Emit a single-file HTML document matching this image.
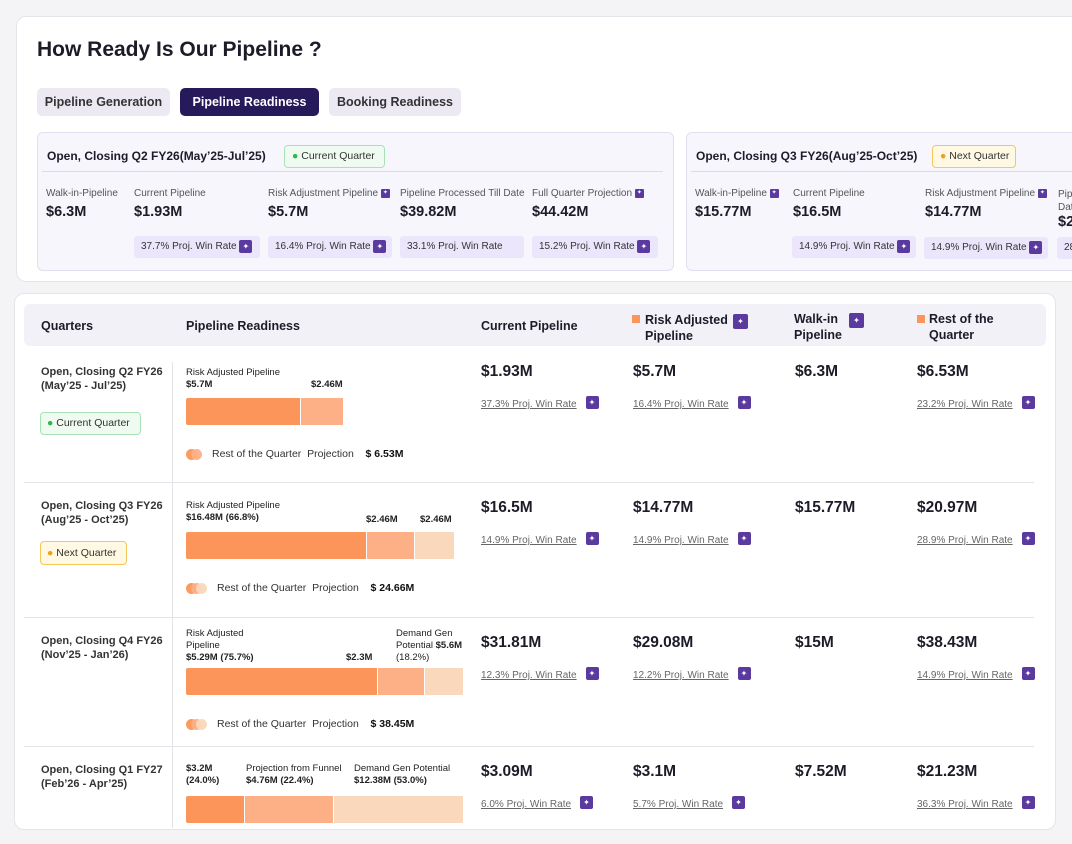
<!DOCTYPE html>
<html><head><meta charset="utf-8"><style>
*{box-sizing:border-box;margin:0;padding:0}
body{width:1072px;height:844px;background:#f4f4f6;font-family:"Liberation Sans",sans-serif;color:#1c1c28;position:relative;overflow:hidden}
.a{position:absolute;white-space:nowrap}
.card{position:absolute;background:#fff;border:1px solid #e4e4ea;border-radius:10px}
.tab{position:absolute;top:88px;height:28px;border-radius:5px;background:#ece9f3;font-size:12.5px;line-height:28px;text-align:center;color:#333;font-weight:bold}
.sum{position:absolute;top:132px;height:139px;background:#f7f6fd;border:1px solid #e2dff0;border-radius:6px}
.lbl{font-size:10px;color:#555}
.val{font-size:14.5px;font-weight:bold}
.pill{position:absolute;height:22px;background:#ebe6fb;border-radius:3px;font-size:10px;line-height:22px;padding-left:7px;color:#333}
.ic{display:inline-block;width:13px;height:13px;background:#5a3a9e;border-radius:2px;color:#fff;font-size:8px;line-height:13px;text-align:center;vertical-align:middle}
.ics{display:inline-block;width:9px;height:9px;background:#5a3a9e;border-radius:1px;color:#fff;font-size:6px;line-height:9px;text-align:center;vertical-align:middle}
.th{font-size:12.5px;font-weight:bold;color:#1c1c28;line-height:16px}
.q{font-size:11px;color:#333;font-weight:bold;line-height:14px}
.big{font-size:15.5px;font-weight:bold}
.wr{font-size:10px;color:#666;text-decoration:underline}
.sm{font-size:9.5px;color:#222;line-height:12px}
.sm b{font-weight:bold}
.hline{position:absolute;height:1px;background:#e3e3e8}
</style></head><body>
<div class="card" style="left:16px;top:16px;width:1070px;height:266px"></div>
<div class="a" style="left:37px;top:38px;font-size:21px;font-weight:bold">How Ready Is Our Pipeline ?</div>
<div class="tab" style="left:37px;width:133px">Pipeline Generation</div>
<div class="tab" style="left:180px;width:139px;background:#271a5a;color:#fff">Pipeline Readiness</div>
<div class="tab" style="left:329px;width:132px">Booking Readiness</div>

<div class="sum" style="left:37px;width:637px"></div>
<div class="a" style="left:47px;top:149px;font-size:12px;font-weight:bold">Open, Closing Q2 FY26(May’25-Jul’25)</div>
<div class="a" style="left:284px;top:145px;width:101px;height:23px;background:#effbf1;border:1px solid #a8e2b4;border-radius:4px;font-size:10.5px;line-height:21px;padding-left:7px;color:#333"><span style="color:#2eb84f">●</span> Current Quarter</div>
<div class="hline" style="left:42px;top:171px;width:621px;background:#dcdae6"></div>
<div class="a lbl" style="left:46px;top:188px">Walk-in-Pipeline</div>
<div class="a val" style="left:46px;top:204px">$6.3M</div>
<div class="a lbl" style="left:134px;top:188px">Current Pipeline</div>
<div class="a val" style="left:134px;top:204px">$1.93M</div>
<div class="a lbl" style="left:268px;top:188px">Risk Adjustment Pipeline <span class="ics">✦</span></div>
<div class="a val" style="left:268px;top:204px">$5.7M</div>
<div class="a lbl" style="left:400px;top:188px">Pipeline Processed Till Date</div>
<div class="a val" style="left:400px;top:204px">$39.82M</div>
<div class="a lbl" style="left:532px;top:188px">Full Quarter Projection <span class="ics">✦</span></div>
<div class="a val" style="left:532px;top:204px">$44.42M</div>
<div class="pill" style="left:134px;top:236px;width:126px">37.7% Proj. Win Rate <span class="ic">✦</span></div>
<div class="pill" style="left:268px;top:236px;width:124px">16.4% Proj. Win Rate <span class="ic">✦</span></div>
<div class="pill" style="left:400px;top:236px;width:124px">33.1% Proj. Win Rate</div>
<div class="pill" style="left:532px;top:236px;width:126px">15.2% Proj. Win Rate <span class="ic">✦</span></div>

<div class="sum" style="left:686px;width:420px"></div>
<div class="a" style="left:696px;top:149px;font-size:12px;font-weight:bold">Open, Closing Q3 FY26(Aug’25-Oct’25)</div>
<div class="a" style="left:932px;top:145px;width:84px;height:23px;background:#fff8e3;border:1px solid #f5c65a;border-radius:4px;font-size:10.5px;line-height:21px;padding-left:7px;color:#333"><span style="color:#f0a020">●</span> Next Quarter</div>
<div class="hline" style="left:691px;top:171px;width:400px;background:#dcdae6"></div>
<div class="a lbl" style="left:695px;top:188px">Walk-in-Pipeline <span class="ics">✦</span></div>
<div class="a val" style="left:695px;top:204px">$15.77M</div>
<div class="a lbl" style="left:793px;top:188px">Current Pipeline</div>
<div class="a val" style="left:793px;top:204px">$16.5M</div>
<div class="a lbl" style="left:925px;top:188px">Risk Adjustment Pipeline <span class="ics">✦</span></div>
<div class="a val" style="left:925px;top:204px">$14.77M</div>
<div class="a lbl" style="left:1058px;top:188px;line-height:13px">Pipeline<br>Date</div>
<div class="a val" style="left:1058px;top:214px">$2</div>
<div class="pill" style="left:792px;top:236px;width:124px">14.9% Proj. Win Rate <span class="ic">✦</span></div>
<div class="pill" style="left:924px;top:237px;width:124px">14.9% Proj. Win Rate <span class="ic">✦</span></div>
<div class="pill" style="left:1057px;top:237px;width:40px">28</div>

<div class="card" style="left:14px;top:293px;width:1042px;height:537px"></div>
<div class="a" style="left:24px;top:304px;width:1022px;height:42px;background:#f3f1f8;border-radius:6px"></div>
<div class="a th" style="left:41px;top:318px">Quarters</div>
<div class="a th" style="left:186px;top:318px">Pipeline Readiness</div>
<div class="a th" style="left:481px;top:318px">Current Pipeline</div>
<div class="a" style="left:632px;top:315px;width:8px;height:8px;background:#fb955a"></div>
<div class="a th" style="left:645px;top:312px">Risk Adjusted<br>Pipeline</div>
<div class="a" style="left:733px;top:313px"><span class="ic" style="width:15px;height:15px;line-height:15px">✦</span></div>
<div class="a th" style="left:794px;top:311px">Walk-in<br>Pipeline</div>
<div class="a" style="left:849px;top:312px"><span class="ic" style="width:15px;height:15px;line-height:15px">✦</span></div>
<div class="a" style="left:917px;top:315px;width:8px;height:8px;background:#fb955a"></div>
<div class="a th" style="left:929px;top:311px">Rest of the<br>Quarter</div>

<div class="a" style="left:172px;top:362px;width:1px;height:466px;background:#e3e3e8"></div>
<div class="hline" style="left:24px;top:482px;width:1010px"></div>
<div class="hline" style="left:24px;top:617px;width:1010px"></div>
<div class="hline" style="left:24px;top:746px;width:1010px"></div>

<!-- row 1 -->
<div class="a q" style="left:41px;top:365px">Open, Closing Q2 FY26<br>(May’25 - Jul’25)</div>
<div class="a" style="left:40px;top:412px;width:101px;height:23px;background:#effbf1;border:1px solid #a8e2b4;border-radius:4px;font-size:10.5px;line-height:21px;padding-left:6px;color:#333"><span style="color:#2eb84f">●</span> Current Quarter</div>
<div class="a sm" style="left:186px;top:367px">Risk Adjusted Pipeline<br><b>$5.7M</b></div>
<div class="a sm" style="left:311px;top:379px"><b>$2.46M</b></div>
<!-- row 2 -->
<div class="a q" style="left:41px;top:499px">Open, Closing Q3 FY26<br>(Aug’25 - Oct’25)</div>
<div class="a" style="left:40px;top:541px;width:87px;height:24px;background:#fff8e3;border:1px solid #f5c65a;border-radius:4px;font-size:10.5px;line-height:22px;padding-left:6px;color:#333"><span style="color:#f0a020">●</span> Next Quarter</div>
<div class="a sm" style="left:186px;top:500px">Risk Adjusted Pipeline<br><b>$16.48M (66.8%)</b></div>
<div class="a sm" style="left:366px;top:514px"><b>$2.46M</b></div>
<div class="a sm" style="left:420px;top:514px"><b>$2.46M</b></div>
<!-- row 3 -->
<div class="a q" style="left:41px;top:634px">Open, Closing Q4 FY26<br>(Nov’25 - Jan’26)</div>
<div class="a sm" style="left:186px;top:628px">Risk Adjusted<br>Pipeline<br><b>$5.29M (75.7%)</b></div>
<div class="a sm" style="left:346px;top:652px"><b>$2.3M</b></div>
<div class="a sm" style="left:396px;top:628px">Demand Gen<br>Potential <b>$5.6M</b><br>(18.2%)</div>
<!-- row 4 -->
<div class="a q" style="left:41px;top:763px">Open, Closing Q1 FY27<br>(Feb’26 - Apr’25)</div>
<div class="a sm" style="left:186px;top:763px"><b>$3.2M<br>(24.0%)</b></div>
<div class="a sm" style="left:246px;top:763px">Projection from Funnel<br><b>$4.76M (22.4%)</b></div>
<div class="a sm" style="left:354px;top:763px">Demand Gen Potential<br><b>$12.38M (53.0%)</b></div>

<div id="bars"></div>
<div id="cells"></div>

<script>
const rowTops = [346, 482, 617, 746];
const segShares = [[41, 15.5], [64.5, 17.2, 14.3], [68.6, 16.8, 13.9], [21.1, 31.8, 46.4]];
const restProjection = ["$ 6.53M", "$ 24.66M", "$ 38.45M", null];
const currentPipeline = ["$1.93M", "$16.5M", "$31.81M", "$3.09M"];
const currentWin = ["37.3%", "14.9%", "12.3%", "6.0%"];
const riskAdjusted = ["$5.7M", "$14.77M", "$29.08M", "$3.1M"];
const riskWin = ["16.4%", "14.9%", "12.2%", "5.7%"];
const walkIn = ["$6.3M", "$15.77M", "$15M", "$7.52M"];
const restQuarter = ["$6.53M", "$20.97M", "$38.43M", "$21.23M"];
const restWin = ["23.2%", "28.9%", "14.9%", "36.3%"];

const segColors = ["#fc955a", "#fdb086", "#fad8bb"];
const barX = 186, barW = 280, barOff = [52, 50, 51, 50];
const bars = document.getElementById('bars');
function mk(parent, style, html){const d=document.createElement('div');d.className='a';d.style.cssText=style;if(html)d.innerHTML=html;parent.appendChild(d);return d;}

segShares.forEach((segs, r) => {
  let x = barX;
  segs.forEach((s, i) => {
    const w = s / 100 * barW;
    const d = mk(bars, `left:${x}px;top:${rowTops[r]+barOff[r]}px;width:${w-1}px;height:27px;background:${segColors[i]};border-radius:${i===0?'2px 0 0 2px':'0'}`);
    
    
    x += w;
  });
  if (restProjection[r]) {
    const ly = rowTops[r] + barOff[r] + 51;
    const dots = mk(bars, `left:186px;top:${ly}px;height:11px;width:30px`, segs.map((s,i)=>`<span style="position:absolute;left:${i*5}px;top:0;width:11px;height:11px;border-radius:50%;background:${segColors[i]};opacity:.95"></span>`).join(''));
    
    
    const lt = mk(bars, `left:${segs.length===2?212:217}px;top:${ly-1}px;font-size:10.5px;color:#333`, `Rest of the Quarter&nbsp; Projection &nbsp;&nbsp; <b style="color:#111">${restProjection[r]}</b>`);
    
    
  }
});

const cells = document.getElementById('cells');
const cols = [[481, currentPipeline, currentWin], [633, riskAdjusted, riskWin], [795, walkIn, null], [917, restQuarter, restWin]];
rowTops.forEach((t, r) => {
  cols.forEach(([x, vals, wins]) => {
    const v = mk(cells, `left:${x}px;top:${t+17}px`, vals[r]);
    v.className = 'a big';
    
    
    if (wins) {
      const w = mk(cells, `left:${x}px;top:${t+48}px`, `<span class="wr">${wins[r]} Proj. Win Rate</span> &nbsp;<span class="ic">✦</span>`);
      
      
    }
  });
});
</script>
</body></html>
